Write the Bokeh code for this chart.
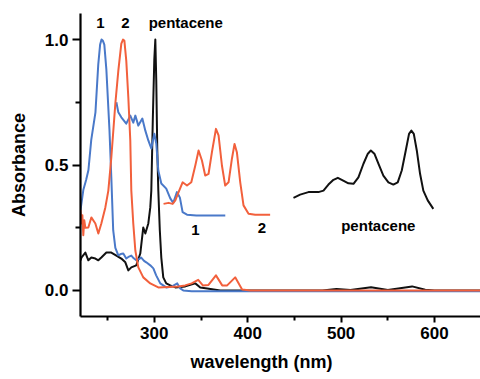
from bokeh.plotting import figure
from bokeh.models import FixedTicker, PrintfTickFormatter, Label, Range1d, Title
from bokeh.embed import file_html
from bokeh.resources import INLINE

# ---- data (wavelength nm, absorbance) ----
blue_wl = [221, 224, 227, 229.5, 232.5, 237, 240, 242, 243.5, 245, 246.5, 248.7, 252, 254, 256,
           258.3, 261.5, 264, 266.8, 270, 273, 275.4, 278, 280.7, 283.5, 286, 289, 291.4, 295.7,
           299, 302, 306.4, 312.8, 319, 324.6, 327.8, 331, 340, 650]
blue_abs = [0.32, 0.40, 0.44, 0.48, 0.60, 0.71, 0.90, 0.98, 1.0, 0.995, 0.98, 0.88, 0.64, 0.45, 0.24,
            0.17, 0.14, 0.145, 0.147, 0.127, 0.135, 0.139, 0.128, 0.12, 0.125, 0.131, 0.118, 0.112, 0.10,
            0.088, 0.06, 0.028, 0.012, 0.016, 0.028, 0.008, 0.0, -0.003, -0.003]

blue_inset_wl = [259.4, 261.5, 264.7, 270, 274.3, 277.5, 279.7, 282.9, 287.2, 290.4, 293.6, 296.8,
                 300, 302.1, 304.3, 307.5, 312.8, 317.1, 320.3, 324.2, 327.4, 330.3, 335.0, 345, 376]
blue_inset_abs = [0.75, 0.71, 0.69, 0.665, 0.697, 0.669, 0.697, 0.657, 0.685, 0.637, 0.598, 0.566,
                  0.625, 0.586, 0.478, 0.426, 0.406, 0.367, 0.349, 0.392, 0.37, 0.312, 0.302, 0.299, 0.299]

red_wl = [221, 222, 223, 224, 225, 226.2, 229.4, 232.6, 236.9, 240.1, 243.3, 247.6, 250.8, 254,
          258.3, 261.5, 264.7, 266.5, 268, 270, 272.2, 274.3, 275.4, 277.5, 279.7, 282.9, 288.2,
          295.7, 304.3, 325.7, 333, 340, 347, 352, 358, 366, 372.7, 378, 386.6, 394, 402.7, 650]
red_abs = [0.32, 0.267, 0.30, 0.22, 0.28, 0.25, 0.251, 0.291, 0.267, 0.227, 0.267, 0.331, 0.398, 0.53,
           0.745, 0.876, 0.984, 1.0, 0.995, 0.916, 0.769, 0.598, 0.398, 0.267, 0.159, 0.092, 0.052,
           0.028, 0.012, 0.016, 0.02, 0.028, 0.042, 0.02, 0.022, 0.06, 0.02, 0.02, 0.052, 0.004, 0.0, 0.0]

red_inset_wl = [309.9, 315.3, 319.6, 322.5, 326.0, 330.3, 335.0, 339.6, 343.9, 347.4, 351.0, 354.5,
                358.1, 361.7, 366.0, 368.8, 372.4, 375.9, 379.5, 383.1, 385.9, 388.4, 392.0, 395.5,
                400.9, 408.0, 424.0]
red_inset_abs = [0.345, 0.349, 0.345, 0.359, 0.392, 0.431, 0.418, 0.431, 0.498, 0.558, 0.518, 0.458,
                 0.465, 0.551, 0.644, 0.618, 0.498, 0.418, 0.431, 0.525, 0.584, 0.551, 0.431, 0.339,
                 0.306, 0.302, 0.302]

pent_wl = [221, 222, 226.2, 229.4, 232.6, 236.9, 240.1, 243.3, 248.7, 254, 259.4, 264.7, 269, 272.2,
           275.4, 280.7, 285, 288.2, 290.4, 293.6, 295.7, 296.8, 298.4, 300, 301.1, 302.1, 303.2,
           304.3, 305.9, 307.5, 309.6, 312.8, 317.1, 322.5, 333.2, 343.9, 349.2, 356.7, 370.6,
           480, 495, 510, 532, 550, 576, 590, 600, 650]
pent_abs = [0.12, 0.131, 0.151, 0.12, 0.131, 0.127, 0.12, 0.131, 0.151, 0.151, 0.139, 0.127, 0.112, 0.08,
            0.092, 0.1, 0.147, 0.251, 0.227, 0.267, 0.331, 0.398, 0.68, 0.92, 1.0, 0.84, 0.56,
            0.398, 0.24, 0.131, 0.052, 0.028, 0.02, 0.012, 0.016, 0.028, 0.012, 0.008, 0.0,
            0.0, 0.006, 0.002, 0.013, 0.002, 0.016, 0.003, 0.0, 0.0]

pent_inset_wl = [449.0, 456.1, 465.0, 475.7, 481.1, 486.4, 491.8, 496.5, 500.7, 507.8, 513.2, 518.5,
                 523.9, 528.6, 531.8, 535.6, 539.9, 545.2, 550.6, 555.9, 560.6, 564.9, 569.2, 572.7,
                 575.2, 577.8, 581.0, 584.5, 588.0, 592.7, 598.7]
pent_inset_abs = [0.369, 0.382, 0.392, 0.392, 0.398, 0.422, 0.441, 0.449, 0.441, 0.427, 0.425, 0.451,
                  0.505, 0.545, 0.558, 0.545, 0.505, 0.458, 0.431, 0.422, 0.431, 0.478, 0.558, 0.624,
                  0.637, 0.624, 0.558, 0.465, 0.398, 0.359, 0.325]

x_major = [300, 400, 500, 600]
x_minor = [250, 350, 450, 550]
y_major = [0.0, 0.5, 1.0]
y_minor = [0.25, 0.75]

# annotations: (text, x, y)
top_labels = [("1", 242.2, 1.068), ("2", 269.0, 1.068), ("pentacene", 333.7, 1.068)]
inset_labels = [("1", 343.9, 0.239), ("2", 415.2, 0.247), ("pentacene", 539.8, 0.259)]
x_title = "wavelength  (nm)"
y_title = "Absorbance"

BLUE = "#4a79c9"
RED = "#f2603c"
BLACK = "#111111"
FONT = "Liberation Sans"

p = figure(width=480, height=379, output_backend="svg", toolbar_location=None,
           x_range=Range1d(221, 649.2), y_range=Range1d(-0.104, 1.104),
           min_border_left=80, min_border_right=0, min_border_top=13, min_border_bottom=63)
p.outline_line_color = None
p.grid.visible = False
p.background_fill_color = "white"
p.border_fill_color = "white"

lw = 2.0
p.line(pent_wl, pent_abs, line_color=BLACK, line_width=lw, line_join="round")
p.line(pent_inset_wl, pent_inset_abs, line_color=BLACK, line_width=lw, line_join="round")
p.line(blue_wl, blue_abs, line_color=BLUE, line_width=lw, line_join="round")
p.line(blue_inset_wl, blue_inset_abs, line_color=BLUE, line_width=lw, line_join="round")
p.line(red_wl, red_abs, line_color=RED, line_width=lw, line_join="round")
p.line(red_inset_wl, red_inset_abs, line_color=RED, line_width=lw, line_join="round")

for ax in (p.xaxis[0], p.yaxis[0]):
    ax.axis_line_width = 2.2
    ax.axis_line_color = "black"
    ax.major_tick_line_width = 2
    ax.minor_tick_line_width = 2
    ax.major_tick_in = 0
    ax.minor_tick_in = 0
    ax.major_label_text_font = FONT
    ax.major_label_text_font_style = "bold"
    ax.major_label_text_font_size = "17px"
    ax.major_label_text_color = "black"

xa = p.xaxis[0]
xa.ticker = FixedTicker(ticks=x_major, minor_ticks=x_minor)
xa.major_tick_out = 6
xa.minor_tick_out = 4
xa.major_label_standoff = 4

ya = p.yaxis[0]
ya.ticker = FixedTicker(ticks=y_major, minor_ticks=y_minor)
ya.formatter = PrintfTickFormatter(format="%.1f")
ya.major_tick_out = 8
ya.minor_tick_out = 5
ya.major_label_standoff = 4
ya.axis_label = y_title
ya.axis_label_text_font = FONT
ya.axis_label_text_font_style = "bold"
ya.axis_label_text_font_size = "18px"
ya.axis_label_text_color = "black"
ya.axis_label_standoff = 13

p.add_layout(Title(text=x_title, align="left", offset=110, standoff=16,
                   text_font=FONT, text_font_style="bold", text_font_size="18px",
                   text_color="black"), "below")

for t, x, y in top_labels + inset_labels:
    p.add_layout(Label(x=x, y=y, text=t, text_align="center", text_baseline="middle",
                       text_font=FONT, text_font_style="bold", text_font_size="15px",
                       text_color="black"))

open("out.html", "w").write(file_html(p, INLINE))
